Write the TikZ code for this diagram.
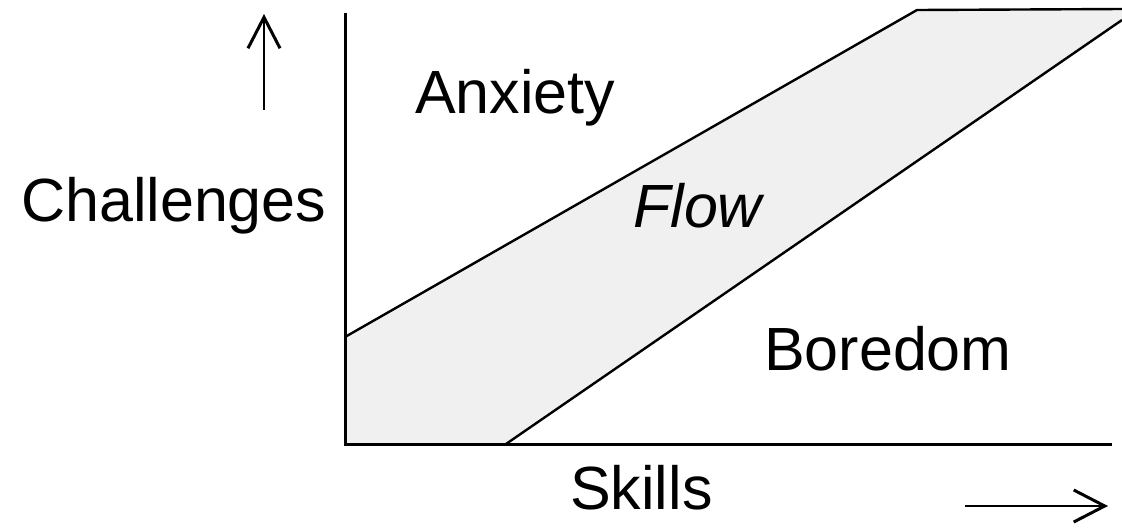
\documentclass[tikz,border=0pt]{standalone}
\usepackage{fontspec}
\setmainfont{Liberation Sans}
\usetikzlibrary{arrows.meta}
\tikzset{
  lbl/.style={anchor=base west, inner sep=0pt, font=\fontsize{61}{61}\selectfont},
  axisline/.style={line width=3pt, line cap=rect},
  bound/.style={line width=2.4pt},
  dirarrow/.style={line width=2.4pt, -{Straight Barb[length=31pt,width=32pt,line width=3pt]}},
  flowfill/.style={fill=black!6}
}
\begin{document}
\begin{tikzpicture}[x=1pt,y=-1pt]
\useasboundingbox (0,0) rectangle (1122,528);
% coordinates
\coordinate (O) at (345,444);
\coordinate (Ytop) at (345,14);
\coordinate (Xend) at (1110,444);
\coordinate (U1) at (345,337);
\coordinate (U2) at (917,10);
\coordinate (U3) at (1122,9);
\coordinate (L1) at (506,444);
\coordinate (L2) at (1122,20);
\coordinate (UpA) at (264,110);
\coordinate (UpB) at (264,14);
\coordinate (RtA) at (965,506);
\coordinate (RtB) at (1108,506);
% flow band
\fill[flowfill] (U1) -- (U2) -- (U3) -- (L2) -- (L1) -- (O) -- cycle;
\draw[bound] (U1) -- (U2) -- (U3);
\draw[bound] (L1) -- (L2);
% axes
\draw[axisline] (Ytop) -- (O) -- (Xend);
% direction arrows
\draw[dirarrow] (UpA) -- (UpB);
\draw[dirarrow] (RtA) -- (RtB);
% labels
\node[lbl] (chal) at (21,221) {Challenges};
\node[lbl] (anx) at (415,113) {Anxiety};
\node[lbl, font=\fontsize{61}{61}\selectfont\itshape] (flow) at (633,227) {Flow};
\node[lbl] (bore) at (764,370) {Boredom};
\node[lbl] (skill) at (570,509) {Skills};
\end{tikzpicture}
\end{document}
